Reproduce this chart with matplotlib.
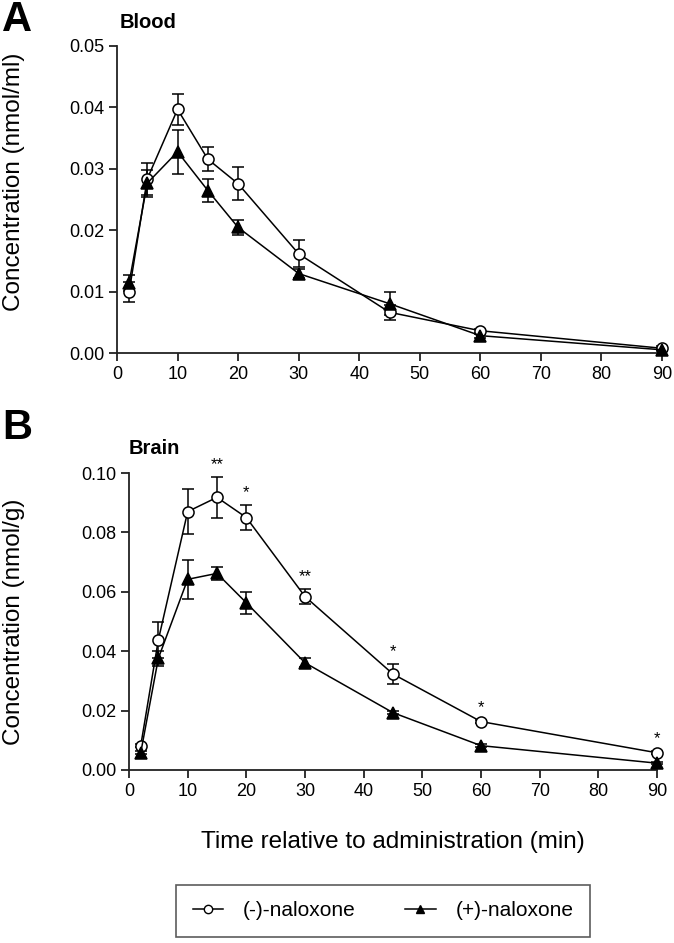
import matplotlib
matplotlib.use("Agg")
import matplotlib.pyplot as plt
import numpy as np

plt.rcParams['font.family'] = ['Liberation Sans', 'DejaVu Sans']

# ---- data ----
time_min = [2, 5, 10, 15, 20, 30, 45, 60, 90]

blood_minus = [0.0100, 0.0284, 0.0397, 0.0316, 0.0276, 0.0162, 0.0067, 0.0037, 0.00085]
blood_minus_err = [0.0017, 0.0026, 0.0025, 0.0020, 0.0027, 0.0022, 0.0012, 0.0003, 0.0003]
blood_plus = [0.0115, 0.0277, 0.0328, 0.0265, 0.0205, 0.0130, 0.0081, 0.0029, 0.0006]
blood_plus_err = [0.0013, 0.0022, 0.0036, 0.0018, 0.0012, 0.0007, 0.0019, 0.0003, 0.0002]

brain_minus = [0.0082, 0.0438, 0.0870, 0.0918, 0.0850, 0.0584, 0.0323, 0.0163, 0.0058]
brain_minus_err = [0.0005, 0.0060, 0.0076, 0.0070, 0.0042, 0.0026, 0.0033, 0.0006, 0.0005]
brain_plus = [0.0058, 0.0376, 0.0642, 0.0662, 0.0563, 0.0361, 0.0193, 0.0082, 0.0023]
brain_plus_err = [0.0005, 0.0025, 0.0065, 0.0023, 0.0037, 0.0015, 0.0005, 0.0005, 0.0004]

brain_sig_time = [15, 20, 30, 45, 60, 90]
brain_sig_label = ['**', '*', '**', '*', '*', '*']

legend_labels = ['(-)-naloxone', '(+)-naloxone']

W, H = 674, 943
fig = plt.figure(figsize=(W / 100, H / 100), dpi=100)

def px_axes(l, r, t, b):
    return fig.add_axes([l / W, 1 - b / H, (r - l) / W, (b - t) / H])

TICK_FS = 13
LABEL_FS = 17.5

def style(ax):
    for s in ['top', 'right']:
        ax.spines[s].set_visible(False)
    for s in ['left', 'bottom']:
        ax.spines[s].set_linewidth(1.3)
        ax.spines[s].set_color('#222222')
    ax.tick_params(direction='out', length=6, width=1.3, labelsize=TICK_FS,
                   color='#222222', pad=3)
    ax.set_xlim(0, 90)
    ax.set_xticks(range(0, 91, 10))

def plot_series(ax, y, err, marker, face, ms):
    ax.errorbar(time_min, y, yerr=err, color='black', lw=1.1, elinewidth=1.1,
                capsize=4.5, capthick=1.1, marker=marker, markersize=ms,
                markerfacecolor=face, markeredgecolor='black', markeredgewidth=1.1,
                clip_on=False, zorder=3)

# ---- Panel A ----
axA = px_axes(117, 662, 46, 353.5)
style(axA)
axA.set_ylim(0, 0.05)
axA.set_yticks(np.arange(0, 0.051, 0.01))
axA.yaxis.set_major_formatter(matplotlib.ticker.FormatStrFormatter('%.2f'))
plot_series(axA, blood_minus, blood_minus_err, 'o', 'white', 8)
plot_series(axA, blood_plus, blood_plus_err, '^', 'black', 8)
fig.text(14 / W, 1 - 182 / H, 'Concentration (nmol/ml)', fontsize=LABEL_FS,
         rotation=90, ha='center', va='center')
fig.text(120 / W, 1 - 22 / H, 'Blood', fontsize=14.5, fontweight='bold', va='center', ha='left')
fig.text(2 / W, 1 - 20 / H, 'A', fontsize=30, fontweight='bold', va='center', ha='left')

# ---- Panel B ----
axB = px_axes(129, 657, 473, 770)
style(axB)
axB.set_ylim(0, 0.10)
axB.set_yticks(np.arange(0, 0.101, 0.02))
axB.yaxis.set_major_formatter(matplotlib.ticker.FormatStrFormatter('%.2f'))
plot_series(axB, brain_minus, brain_minus_err, 'o', 'white', 8)
plot_series(axB, brain_plus, brain_plus_err, '^', 'black', 8)
fig.text(14 / W, 1 - 622 / H, 'Concentration (nmol/g)', fontsize=LABEL_FS,
         rotation=90, ha='center', va='center')
axB.set_xlabel('Time relative to administration (min)', fontsize=LABEL_FS)
axB.xaxis.set_label_coords(0.5, -0.205)
fig.text(129 / W, 1 - 449 / H, 'Brain', fontsize=14.5, fontweight='bold', va='center', ha='left')
fig.text(2 / W, 1 - 428 / H, 'B', fontsize=30, fontweight='bold', va='center', ha='left')

for t, lab in zip(brain_sig_time, brain_sig_label):
    i = time_min.index(t)
    top = brain_minus[i] + brain_minus_err[i]
    axB.annotate(lab, (t, top), xytext=(0, 3.5), textcoords='offset points',
                 ha='center', va='bottom', fontsize=12, annotation_clip=False)

# ---- Legend ----
hm = matplotlib.lines.Line2D([], [], color='black', lw=1.1, marker='o', markersize=6,
                             markerfacecolor='white', markeredgecolor='black')
hp = matplotlib.lines.Line2D([], [], color='black', lw=1.1, marker='^', markersize=6,
                             markerfacecolor='black', markeredgecolor='black')
leg = fig.legend([hm, hp], legend_labels, loc='center',
                 bbox_to_anchor=(383 / W, 1 - 911 / H), ncol=2, fontsize=15,
                 frameon=True, fancybox=False, edgecolor='#333333',
                 handlelength=1.45, columnspacing=2.4, borderpad=0.8,
                 handletextpad=0.95)
leg.get_frame().set_linewidth(1.2)

fig.savefig('out.png', dpi=100)
